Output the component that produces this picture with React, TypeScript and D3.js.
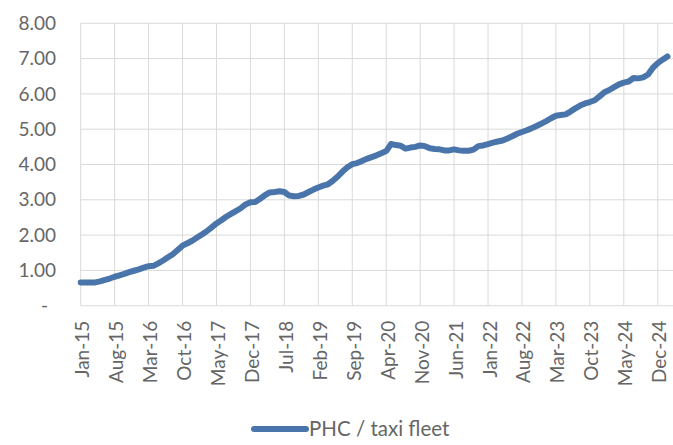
import React from "react";
import * as d3 from "d3";

// Monthly ratio of private hire cars to taxis, Jan-15 onward
const startYear = 2015;
const ratio: number[] = [
  0.66, 0.66, 0.66, 0.66, 0.69, 0.73, 0.77, 0.82, 0.86, 0.90, 0.95, 0.99,
  1.03, 1.08, 1.12, 1.13, 1.20, 1.28, 1.37, 1.46, 1.58, 1.70, 1.77, 1.84,
  1.93, 2.02, 2.11, 2.22, 2.33, 2.42, 2.52, 2.60, 2.68, 2.76, 2.87, 2.93,
  2.94, 3.03, 3.13, 3.21, 3.22, 3.24, 3.22, 3.12, 3.10, 3.11, 3.15, 3.22,
  3.29, 3.35, 3.40, 3.44, 3.54, 3.66, 3.80, 3.92, 4.01, 4.04, 4.10, 4.16,
  4.21, 4.26, 4.32, 4.38, 4.58, 4.55, 4.53, 4.45, 4.48, 4.50, 4.54, 4.52,
  4.46, 4.44, 4.43, 4.40, 4.40, 4.43, 4.40, 4.39, 4.39, 4.42, 4.52, 4.54,
  4.58, 4.62, 4.65, 4.68, 4.74, 4.80, 4.87, 4.92, 4.97, 5.03, 5.09, 5.16,
  5.23, 5.31, 5.38, 5.40, 5.42, 5.50, 5.59, 5.67, 5.73, 5.77, 5.82, 5.93,
  6.05, 6.11, 6.19, 6.27, 6.32, 6.35, 6.45, 6.44, 6.47, 6.55, 6.74, 6.87,
  6.97, 7.06,
];

// Axis labels
const xTickLabels: string[] = [
  "Jan-15", "Aug-15", "Mar-16", "Oct-16", "May-17", "Dec-17", "Jul-18", "Feb-19",
  "Sep-19", "Apr-20", "Nov-20", "Jun-21", "Jan-22", "Aug-22", "Mar-23", "Oct-23",
  "May-24", "Dec-24",
];
const yTickValues: number[] = [0, 1, 2, 3, 4, 5, 6, 7, 8];
const seriesName = "PHC / taxi fleet";

const W = 673;
const H = 445;
const margin = { left: 80.7, right: 0.7, top: 23.3, bottom: 139.3 };
const tickStepMonths = 7;
const axisEndMonth = 122;

const labelFont = "Lato, 'Noto Sans', sans-serif";
const labelColor = "#666666";
const gridColor = "#d9d9d9";
const lineColor = "#4a75aa";

export default function App() {
  const x = d3
    .scaleLinear()
    .domain([0, axisEndMonth])
    .range([margin.left, W - margin.right]);
  const y = d3
    .scaleLinear()
    .domain([0, 8])
    .range([H - margin.bottom, margin.top]);

  const line = d3
    .line<number>()
    .x((_, i) => x(i))
    .y((d) => y(d))
    .curve(d3.curveLinear);

  const fmt = (v: number) => (v === 0 ? "-" : d3.format(".2f")(v));
  const xTicks = xTickLabels.map((label, i) => ({ label, m: i * tickStepMonths }));

  return (
    <svg
      width={W}
      height={H}
      style={{ position: "absolute", left: 0, top: 0, background: "#fff" }}
      fontFamily={labelFont}
    >
      {/* horizontal gridlines */}
      {yTickValues.map((v) => (
        <line
          key={"h" + v}
          x1={margin.left}
          x2={W}
          y1={y(v)}
          y2={y(v)}
          stroke={gridColor}
          strokeWidth={1}
        />
      ))}
      {/* vertical gridlines at labelled months */}
      {xTicks.map((t) => (
        <line
          key={"v" + t.m}
          x1={x(t.m)}
          x2={x(t.m)}
          y1={margin.top}
          y2={y(0)}
          stroke={gridColor}
          strokeWidth={1}
        />
      ))}
      {/* y labels */}
      {yTickValues.map((v) => (
        <text
          key={"yl" + v}
          x={v === 0 ? 48 : 56}
          y={y(v)}
          dy="0.35em"
          textAnchor="end"
          fontSize={19}
          fill={labelColor}
        >
          {fmt(v)}
        </text>
      ))}
      {/* x labels */}
      {xTicks.map((t) => (
        <text
          key={"xl" + t.m}
          transform={`translate(${x(t.m) + 8.5},${y(0) + 15}) rotate(-90)`}
          textAnchor="end"
          fontSize={19}
          fill={labelColor}
        >
          {t.label}
        </text>
      ))}
      {/* series */}
      <path
        d={line(ratio) ?? ""}
        fill="none"
        stroke={lineColor}
        strokeWidth={6}
        strokeLinejoin="round"
        strokeLinecap="round"
      />
      {/* legend */}
      <line x1={254} x2={306} y1={429} y2={429} stroke={lineColor} strokeWidth={6} strokeLinecap="round" />
      <text x={309} y={436} fontSize={20.5} fill={labelColor}>
        {seriesName}
      </text>
    </svg>
  );
}
